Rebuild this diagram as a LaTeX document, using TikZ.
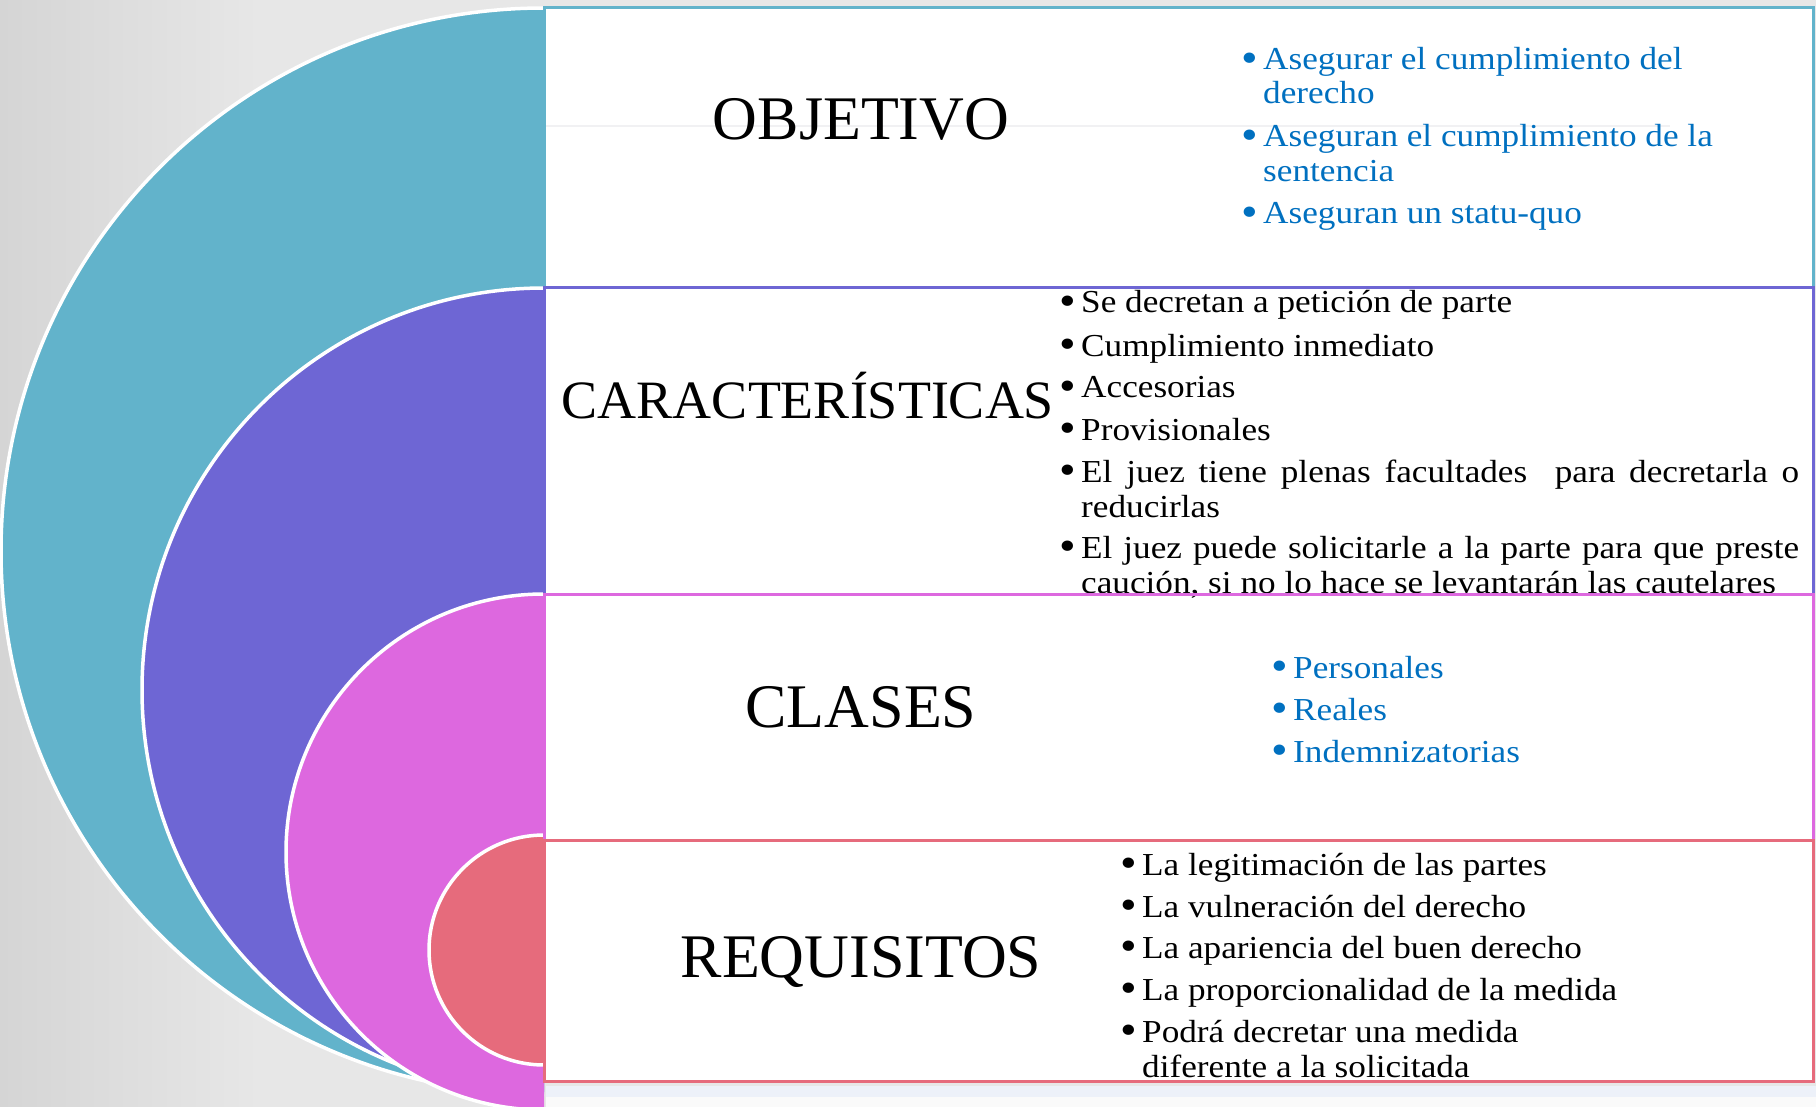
\documentclass[tikz,border=0pt]{standalone}
\usepackage{fontspec}
\setmainfont{Liberation Serif}
\newfontfamily\listfont[FakeStretch=1.1]{Liberation Serif}
\definecolor{cyanc}{HTML}{62B3CB}
\definecolor{purc}{HTML}{6E66D4}
\definecolor{magc}{HTML}{DD68DF}
\definecolor{redc}{HTML}{E66B7C}
\definecolor{bluet}{HTML}{0070C0}
\definecolor{bgl}{HTML}{D5D5D5}
\definecolor{bgr}{HTML}{E7E7E7}
\definecolor{faint}{HTML}{F1F1F3}
\definecolor{stripc}{HTML}{EDF1F9}
\newcommand{\bul}{\raisebox{-2.5pt}{\scalebox{1.35}{\textbullet}}}
\begin{document}
\begin{tikzpicture}[x=1pt,y=-1pt,
  disc/.style={draw=white, line width=3.5pt},
  boxline/.style={line width=3pt},
  ttl/.style={inner sep=0pt, anchor=base, font=\fontsize{62}{62}\selectfont},
  itm/.style={inner sep=0pt, anchor=base west, font=\listfont\fontsize{32}{32}\selectfont},
  blk/.style={itm, text=black},
  blu/.style={itm, text=bluet}]
\useasboundingbox (0,0) rectangle (1816,1107);
\fill[bgr] (0,0) rectangle (1816,1107);
\shade[left color=bgl, right color=bgr] (0,0) rectangle (260,1107);
% white panels
\fill[white] (544,8) rectangle (1813,1081);
\draw[faint, line width=2pt] (546,126) -- (1670,126);
\fill[stripc] (546,1086) rectangle (1816,1097);
\fill[white!96!gray] (546,1097) rectangle (1816,1107);
% half discs
\begin{scope}
  \clip (-10,-10) rectangle (544,1120);
  \path[disc, fill=cyanc] (544,551) circle[radius=543];
  \path[disc, fill=purc] (544,690) circle[radius=402];
  \path[disc, fill=magc] (544,852) circle[radius=258];
  \path[disc, fill=redc] (544,950) circle[radius=115];
\end{scope}
% titles
\node[ttl] (tobj) at (861,140) {OBJETIVO};
\node[ttl, font=\fontsize{54}{54}\selectfont] (tcar) at (808,418) {CARACTERÍSTICAS};
\node[ttl] (tcla) at (861,727) {CLASES};
\node[ttl] (treq) at (861,977) {REQUISITOS};
% objetivo list
\node[blu] (ob1) at (1241,70) {\bul};
\node[blu] (o1) at (1263,70) {Asegurar el cumplimiento del};
\node[blu] (o1b) at (1263,104) {derecho};
\node[blu] (ob2) at (1241,147) {\bul};
\node[blu] (o2) at (1263,147) {Aseguran el cumplimiento de la};
\node[blu] (o2b) at (1263,182) {sentencia};
\node[blu] (ob3) at (1241,224) {\bul};
\node[blu] (o3) at (1263,224) {Aseguran un statu-quo};
% caracteristicas list
\node[blk] (cb1) at (1059,313) {\bul};
\node[blk] (c1) at (1081,313) {Se decretan a petición de parte};
\node[blk] (cb2) at (1059,356) {\bul};
\node[blk] (c2) at (1081,356) {Cumplimiento inmediato};
\node[blk] (cb3) at (1059,398) {\bul};
\node[blk] (c3) at (1081,398) {Accesorias};
\node[blk] (cb4) at (1059,440) {\bul};
\node[blk] (c4) at (1081,440) {Provisionales};
\node[blk] (cb5) at (1059,482) {\bul};
\node[blk] (c5) at (1081,482) {\makebox[718pt][s]{El juez tiene plenas facultades \ para decretarla o}};
\node[blk] (c5b) at (1081,517) {reducirlas};
\node[blk] (cb6) at (1059,558) {\bul};
\node[blk] (c6) at (1081,558) {\makebox[718pt][s]{El juez puede solicitarle a la parte para que preste}};
\node[blk] (c6b) at (1081,593) {caución, si no lo hace se levantarán las cautelares};
% clases list
\node[blu] (kb1) at (1271,678) {\bul};
\node[blu] (k1) at (1293,678) {Personales};
\node[blu] (kb2) at (1271,720) {\bul};
\node[blu] (k2) at (1293,720) {Reales};
\node[blu] (kb3) at (1271,762) {\bul};
\node[blu] (k3) at (1293,762) {Indemnizatorias};
% requisitos list
\node[blk] (rb1) at (1120,875) {\bul};
\node[blk] (r1) at (1142,875) {La legitimación de las partes};
\node[blk] (rb2) at (1120,917) {\bul};
\node[blk] (r2) at (1142,917) {La vulneración del derecho};
\node[blk] (rb3) at (1120,958) {\bul};
\node[blk] (r3) at (1142,958) {La apariencia del buen derecho};
\node[blk] (rb4) at (1120,1000) {\bul};
\node[blk] (r4) at (1142,1000) {La proporcionalidad de la medida};
\node[blk] (rb5) at (1120,1042) {\bul};
\node[blk] (r5) at (1142,1042) {Podrá decretar una medida};
\node[blk] (r5b) at (1142,1077) {diferente a la solicitada};
% panel borders
\draw[boxline, cyanc] (544,8) rectangle (1813,288);
\draw[boxline, purc] (544,288) rectangle (1813,594);
\draw[boxline, magc] (544,594) rectangle (1813,840);
\draw[boxline, redc] (544,840) rectangle (1813,1081);
\end{tikzpicture}
\end{document}
